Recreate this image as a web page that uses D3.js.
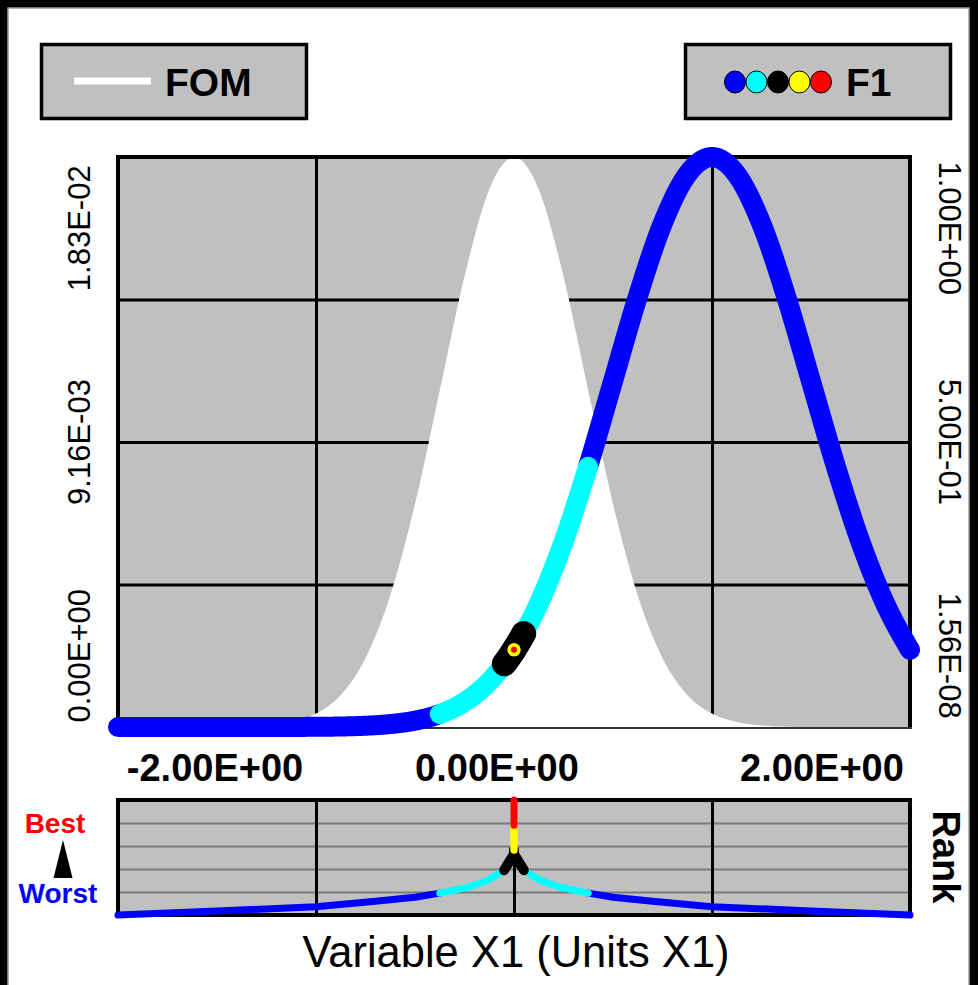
<!DOCTYPE html>
<html>
<head>
<meta charset="utf-8">
<script src="https://cdn.jsdelivr.net/npm/d3@7"></script>
<style>
  html, body { margin: 0; padding: 0; background: #000; }
  svg { display: block; font-family: "Liberation Sans", Arial, sans-serif; }
</style>
</head>
<body>
<svg id="chart" width="978" height="985"></svg>
<script>
// ---------------- data ----------------
// sample positions of variable X1
const xSamples = [-4, -3.75, -3.5, -3.25, -3, -2.75, -2.5, -2.25, -2, -1.75, -1.5, -1.25, -1,
  -0.75, -0.5, -0.25, 0, 0.25, 0.5, 0.75, 1, 1.25, 1.5, 1.75, 2, 2.25, 2.5, 2.75, 3, 3.25, 3.5, 3.75, 4];

// figure of merit (left axis)
const fomValues = [0, 0, 0, 0, 0, 0.00001, 0.00005, 0.00016, 0.00043, 0.00103, 0.00221, 0.00422, 0.00716,
  0.0108, 0.01447, 0.01726, 0.0183, 0.01726, 0.01447, 0.0108, 0.00716, 0.00422, 0.00221, 0.00103, 0.00043,
  0.00016, 0.00005, 0.00001, 0, 0, 0, 0, 0];

// response F1 (right axis)
const f1Values = [0.00000002, 0.00000007, 0.0000003, 0.000001, 0.000004, 0.000013, 0.00004, 0.00012, 0.00034,
  0.00088, 0.0022, 0.0051, 0.0111, 0.0228, 0.0439, 0.0796, 0.1353, 0.2163, 0.3247, 0.4578, 0.6065, 0.7548,
  0.8825, 0.9692, 1.0, 0.9692, 0.8825, 0.7548, 0.6065, 0.4578, 0.3247, 0.2163, 0.1353];

// rank of each sample (0 = worst, 1 = best), traced left to right
const rankX   = [-4, -3, -2, -1.4, -1, -0.75, -0.47, -0.27, -0.1, -0.05, 0, 0, 0, 0.05, 0.1, 0.27, 0.47, 0.75, 1, 1.4, 2, 3, 4];
const rankVal = [0, 0.035, 0.072, 0.12, 0.155, 0.19, 0.24, 0.30, 0.39, 0.46, 0.53, 1.0, 0.53, 0.46, 0.39, 0.30, 0.24, 0.19, 0.155, 0.12, 0.072, 0.035, 0];
const rankBreaks = [0.19, 0.39, 0.565, 0.78];
const rankColors = ["#0000ff", "#00ffff", "#000000", "#ffff00", "#ff0000"];

// axis extents and tick labels
const fomMax = 0.0183;
const f1Min = 1.56e-8, f1Max = 1.0;
const xTickValues = [-2, 0, 2];
const xTickLabels = ["-2.00E+00", "0.00E+00", "2.00E+00"];
const fomTickLabels = ["1.83E-02", "9.16E-03", "0.00E+00"];
const f1TickLabels = ["1.00E+00", "5.00E-01", "1.56E-08"];
const rankGridValues = [0.2, 0.4, 0.6, 0.8];

// ---------------- layout ----------------
const svg = d3.select("#chart");
const plot = { left: 118, right: 910, top: 157, bottom: 727 };
const rankBox = { top: 800, bottom: 915 };
const pw = plot.right - plot.left, ph = plot.bottom - plot.top;
const GRAY = "#c0c0c0";

const x = d3.scaleLinear().domain([-4, 4]).range([plot.left, plot.right]);
const yFom = d3.scaleLinear().domain([0, fomMax]).range([plot.bottom, plot.top]);
const yF1 = d3.scaleLinear().domain([f1Min, f1Max]).range([plot.bottom, plot.top]);
const yRank = d3.scaleLinear().domain([0, 1]).range([rankBox.bottom, rankBox.top]);
const rankBin = r => d3.bisectRight(rankBreaks, r);

// page frame
svg.append("rect").attr("x", 8).attr("y", 8).attr("width", 961).attr("height", 990)
  .attr("fill", "#fff").attr("stroke", "#9a9a9a").attr("stroke-width", 1.5);

// ---------------- legends ----------------
function legendBox(x0) {
  svg.append("rect").attr("x", x0).attr("y", 44.5).attr("width", 265).attr("height", 74)
    .attr("fill", GRAY).attr("stroke", "#000").attr("stroke-width", 3.5);
}
legendBox(41.5);
svg.append("line").attr("x1", 74).attr("x2", 151).attr("y1", 81).attr("y2", 81)
  .attr("stroke", "#fff").attr("stroke-width", 7);
svg.append("text").attr("x", 165).attr("y", 96).attr("font-size", 39).attr("font-weight", "bold").text("FOM");

legendBox(685.5);
rankColors.forEach((c, i) => {
  svg.append("ellipse").attr("cx", 735 + i * 21.5).attr("cy", 82).attr("rx", 10.5).attr("ry", 11)
    .attr("fill", c).attr("stroke", "#000").attr("stroke-width", 1);
});
svg.append("text").attr("x", 846).attr("y", 96).attr("font-size", 39).attr("font-weight", "bold").text("F1");

// ---------------- main plot ----------------
svg.append("rect").attr("x", plot.left).attr("y", plot.top).attr("width", pw).attr("height", ph).attr("fill", GRAY);

// grid
svg.append("g").attr("transform", `translate(${plot.left},0)`)
  .call(d3.axisLeft(yFom).tickValues([0.25, 0.5, 0.75].map(f => f * fomMax)).tickSize(-pw).tickFormat(""))
  .call(g => g.select(".domain").remove())
  .selectAll("line").attr("stroke", "#000").attr("stroke-width", 3);
svg.append("g").attr("transform", `translate(0,${plot.bottom})`)
  .call(d3.axisBottom(x).tickValues(xTickValues).tickSize(-ph).tickFormat(""))
  .call(g => g.select(".domain").remove())
  .selectAll("line").attr("stroke", "#000").attr("stroke-width", 3);

// FOM filled profile
const fomArea = d3.area().x(d => x(d[0])).y0(plot.bottom).y1(d => yFom(d[1])).curve(d3.curveMonotoneX);
svg.append("path").attr("d", fomArea(d3.zip(xSamples, fomValues))).attr("fill", "#fff");

// frame of main plot
svg.append("path")
  .attr("d", `M${plot.left},${plot.bottom} V${plot.top} H${plot.right} V${plot.bottom}`)
  .attr("fill", "none").attr("stroke", "#000").attr("stroke-width", 4);
svg.append("line").attr("x1", plot.left - 2).attr("x2", plot.right + 2).attr("y1", plot.bottom + 1).attr("y2", plot.bottom + 1)
  .attr("stroke", "#333").attr("stroke-width", 2);

// split the rank trace into runs of equal colour class
const rankPts = rankX.map((v, i) => ({ x: v, r: rankVal[i] }));
const runs = [];
let cur = { b: rankBin(rankPts[0].r), pts: [rankPts[0]] };
for (let i = 1; i < rankPts.length; i++) {
  const p = rankPts[i - 1], q = rankPts[i];
  const bp = rankBin(p.r), bq = rankBin(q.r);
  if (bp !== bq) {
    const dir = bq > bp ? 1 : -1;
    for (let b = bp; b !== bq; b += dir) {
      const thr = dir > 0 ? rankBreaks[b] : rankBreaks[b - 1];
      const t = (thr - p.r) / (q.r - p.r);
      const m = { x: p.x + t * (q.x - p.x), r: thr };
      cur.pts.push(m);
      runs.push(cur);
      cur = { b: b + dir, pts: [m] };
    }
  }
  cur.pts.push(q);
}
runs.push(cur);
const runsByClass = runs.slice().sort((a, b) => a.b - b.b);

// F1 response curve, coloured by rank class
const f1Line = d3.line().x(d => x(d[0])).y(d => yF1(d[1])).curve(d3.curveMonotoneX);
const f1Guide = svg.append("path").attr("d", f1Line(d3.zip(xSamples, f1Values)))
  .attr("fill", "none").attr("stroke", "none");
const guideNode = f1Guide.node();
const guideLen = guideNode.getTotalLength();
const f1Pts = d3.range(0, guideLen, 1).concat([guideLen]).map(l => {
  const p = guideNode.getPointAtLength(l);
  return [p.x, p.y, x.invert(p.x)];
});
const f1Widths = [20, 20, 25, 13, 6];
const polyline = d3.line();
runsByClass.forEach(run => {
  const lo = d3.min(run.pts, p => p.x), hi = d3.max(run.pts, p => p.x);
  const w = f1Widths[run.b];
  if (hi - lo < 1e-9) {
    const p = d3.least(f1Pts, s => Math.abs(s[2] - lo));
    svg.append("circle").attr("cx", p[0]).attr("cy", p[1]).attr("r", w / 2).attr("fill", rankColors[run.b]);
  } else {
    const seg = f1Pts.filter(s => s[2] >= lo - 1e-9 && s[2] <= hi + 1e-9).map(s => [s[0], s[1]]);
    svg.append("path").attr("d", polyline(seg)).attr("fill", "none")
      .attr("stroke", rankColors[run.b]).attr("stroke-width", w)
      .attr("stroke-linecap", "round").attr("stroke-linejoin", "round");
  }
});

// axis labels of main plot
const labelFrac = [0.125, 0.5, 0.875];
fomTickLabels.forEach((t, i) => {
  const cy = plot.top + labelFrac[i] * ph;
  svg.append("text").attr("transform", `translate(90,${cy}) rotate(-90)`)
    .attr("text-anchor", "middle").attr("font-size", 31).text(t);
});
f1TickLabels.forEach((t, i) => {
  const cy = plot.top + labelFrac[i] * ph;
  svg.append("text").attr("transform", `translate(939,${cy}) rotate(90)`)
    .attr("text-anchor", "middle").attr("font-size", 31).text(t);
});
const xLabelCenters = [215, 497, 822];
xTickLabels.forEach((t, i) => {
  svg.append("text").attr("x", xLabelCenters[i]).attr("y", 781)
    .attr("text-anchor", "middle").attr("font-size", 38).attr("font-weight", "bold").text(t);
});

// ---------------- rank panel ----------------
svg.append("rect").attr("x", plot.left).attr("y", rankBox.top).attr("width", pw)
  .attr("height", rankBox.bottom - rankBox.top).attr("fill", GRAY);
svg.append("g").attr("transform", `translate(${plot.left},0)`)
  .call(d3.axisLeft(yRank).tickValues(rankGridValues).tickSize(-pw).tickFormat(""))
  .call(g => g.select(".domain").remove())
  .selectAll("line").attr("stroke", "#7a7a7a").attr("stroke-width", 2);
svg.append("g").attr("transform", `translate(0,${rankBox.bottom})`)
  .call(d3.axisBottom(x).tickValues(xTickValues).tickSize(-(rankBox.bottom - rankBox.top)).tickFormat(""))
  .call(g => g.select(".domain").remove())
  .selectAll("line").attr("stroke", "#000").attr("stroke-width", 3);
svg.append("rect").attr("x", plot.left).attr("y", rankBox.top).attr("width", pw)
  .attr("height", rankBox.bottom - rankBox.top).attr("fill", "none").attr("stroke", "#000").attr("stroke-width", 4);

const rankWidths = [7, 7, 10, 7, 7];
const rankLine = d3.line().x(d => x(d.x)).y(d => yRank(d.r));
runsByClass.forEach(run => {
  svg.append("path").attr("d", rankLine(run.pts)).attr("fill", "none")
    .attr("stroke", rankColors[run.b]).attr("stroke-width", rankWidths[run.b])
    .attr("stroke-linecap", "round").attr("stroke-linejoin", "round");
});

// rank legend
svg.append("text").attr("x", 55).attr("y", 833).attr("text-anchor", "middle")
  .attr("font-size", 28).attr("font-weight", "bold").attr("fill", "#ff0000").text("Best");
svg.append("path").attr("d", "M63,840 L72.5,878 L53.5,878 Z").attr("fill", "#000");
svg.append("text").attr("x", 58).attr("y", 903).attr("text-anchor", "middle")
  .attr("font-size", 28).attr("font-weight", "bold").attr("fill", "#0000ff").text("Worst");
svg.append("text").attr("transform", "translate(933,857) rotate(90)")
  .attr("text-anchor", "middle").attr("font-size", 38).attr("font-weight", "bold").text("Rank");

// x-axis title
svg.append("text").attr("x", 516).attr("y", 967).attr("text-anchor", "middle")
  .attr("font-size", 43.5).text("Variable X1 (Units X1)");
</script>
</body>
</html>
